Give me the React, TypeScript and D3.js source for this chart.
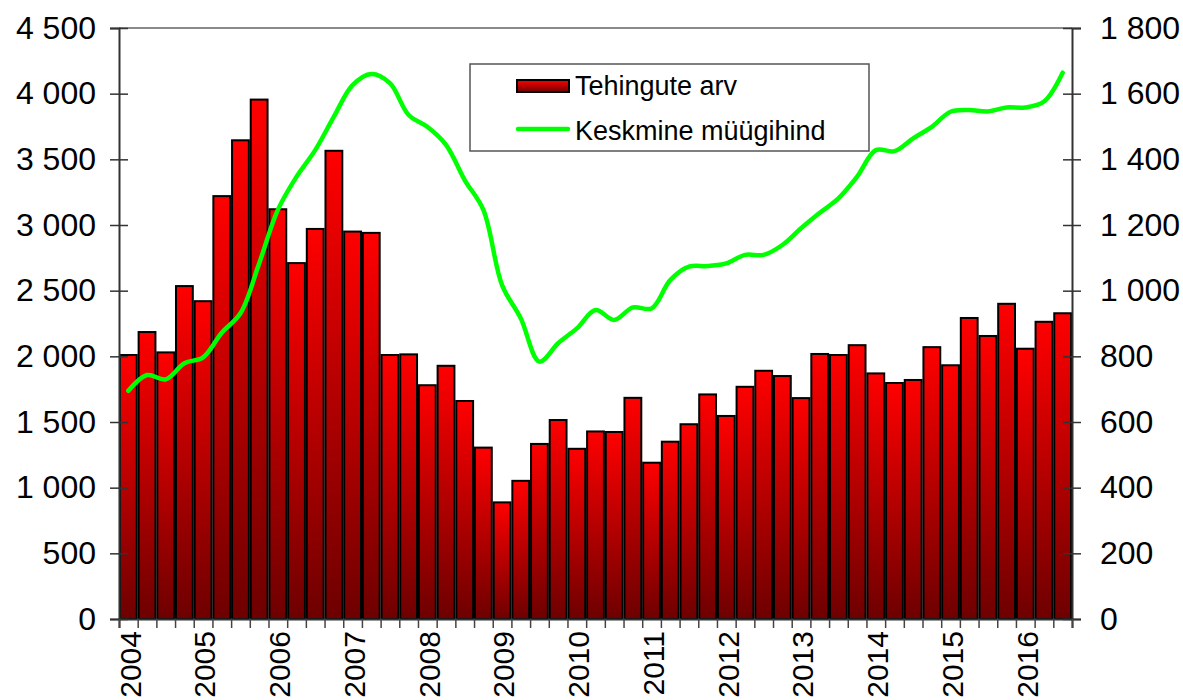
import React, { useEffect, useRef } from 'react';
import * as d3 from 'd3';

// quarters 2004Q1 .. 2016Q3
const quarters = [
  '2004Q1', '2004Q2', '2004Q3', '2004Q4',
  '2005Q1', '2005Q2', '2005Q3', '2005Q4',
  '2006Q1', '2006Q2', '2006Q3', '2006Q4',
  '2007Q1', '2007Q2', '2007Q3', '2007Q4',
  '2008Q1', '2008Q2', '2008Q3', '2008Q4',
  '2009Q1', '2009Q2', '2009Q3', '2009Q4',
  '2010Q1', '2010Q2', '2010Q3', '2010Q4',
  '2011Q1', '2011Q2', '2011Q3', '2011Q4',
  '2012Q1', '2012Q2', '2012Q3', '2012Q4',
  '2013Q1', '2013Q2', '2013Q3', '2013Q4',
  '2014Q1', '2014Q2', '2014Q3', '2014Q4',
  '2015Q1', '2015Q2', '2015Q3', '2015Q4',
  '2016Q1', '2016Q2', '2016Q3',
];

// Tehingute arv (left axis)
const deals = [
  2010, 2185, 2030, 2535,
  2420, 3220, 3645, 3955,
  3120, 2710, 2970, 3565,
  2950, 2940, 2010, 2015,
  1780, 1928, 1660, 1305,
  888, 1052, 1333, 1515,
  1296, 1428, 1424, 1684,
  1190, 1350, 1483, 1710,
  1546, 1768, 1890, 1850,
  1682, 2018, 2010, 2085,
  1870, 1797, 1820, 2070,
  1932, 2292, 2155, 2400,
  2058, 2263, 2328,
];

// Keskmine müügihind (right axis)
const avgPrice = [
  695, 743, 730, 779,
  797, 872, 931, 1083,
  1246, 1347, 1428, 1530,
  1626, 1660, 1632, 1535,
  1499, 1444, 1337, 1246,
  1017, 916, 784, 840,
  885, 941, 911, 949,
  946, 1032, 1073, 1075,
  1083, 1109, 1109, 1139,
  1190, 1237, 1281, 1347,
  1428, 1425, 1464, 1499,
  1545, 1550, 1546, 1558,
  1558, 1576, 1664,
];

const leftTicks = [0, 500, 1000, 1500, 2000, 2500, 3000, 3500, 4000, 4500];
const rightTicks = [0, 200, 400, 600, 800, 1000, 1200, 1400, 1600, 1800];
const yearLabels = ['2004', '2005', '2006', '2007', '2008', '2009', '2010', '2011', '2012', '2013', '2014', '2015', '2016'];

const seriesNames = ['Tehingute arv', 'Keskmine müügihind'];

export default function App() {
  const ref = useRef<SVGSVGElement | null>(null);

  useEffect(() => {
    document.body.style.margin = '0';
    const width = 1183;
    const height = 700;
    const left = 119;
    const right = 1072;
    const top = 28;
    const bottom = 619;
    const font = '"Liberation Sans", Arial, sans-serif';

    const svg = d3.select(ref.current);
    svg.selectAll('*').remove();
    svg.attr('width', width).attr('height', height).style('font-family', font);

    const defs = svg.append('defs');
    const grad = defs
      .append('linearGradient')
      .attr('id', 'barGrad')
      .attr('x1', 0)
      .attr('y1', 0)
      .attr('x2', 0)
      .attr('y2', 1);
    grad.append('stop').attr('offset', '0%').attr('stop-color', '#ff0000');
    grad.append('stop').attr('offset', '100%').attr('stop-color', '#6e0000');

    const loc = d3.formatLocale({ decimal: ',', thousands: '\u00a0', grouping: [3], currency: ['', ''] });
    const fmt = loc.format(',');

    const x = d3.scaleBand().domain(quarters).range([left, right]).paddingInner(0.1).paddingOuter(0.05);
    const yL = d3.scaleLinear().domain([0, 4500]).range([bottom, top]);
    const yR = d3.scaleLinear().domain([0, 1800]).range([bottom, top]);
    const xb = d3.scaleLinear().domain([0, quarters.length]).range([left, right]);

    // top border
    svg.append('line')
      .attr('x1', left).attr('x2', right).attr('y1', top).attr('y2', top)
      .attr('stroke', '#8a8a8a').attr('stroke-width', 2);

    // bars
    svg.append('g')
      .selectAll('rect')
      .data(deals)
      .enter()
      .append('rect')
      .attr('x', (d, i) => x(quarters[i]) as number)
      .attr('y', (d) => yL(d))
      .attr('width', x.bandwidth())
      .attr('height', (d) => bottom - yL(d))
      .attr('fill', 'url(#barGrad)')
      .attr('stroke', '#000')
      .attr('stroke-width', 2);

    // left axis
    const gl = svg.append('g')
      .attr('transform', `translate(${left},0)`)
      .call(d3.axisLeft(yL).tickValues(leftTicks).tickFormat((d) => fmt(d as number)).tickSize(9).tickPadding(14));
    gl.select('.domain').attr('stroke', '#333').attr('stroke-width', 2);
    gl.selectAll('.tick line').attr('x1', 9).attr('stroke', '#333').attr('stroke-width', 1.5);
    gl.selectAll('.tick text').attr('font-size', 32).attr('fill', '#000').attr('font-family', font);

    // right axis
    const gr = svg.append('g')
      .attr('transform', `translate(${right},0)`)
      .call(d3.axisRight(yR).tickValues(rightTicks).tickFormat((d) => fmt(d as number)).tickSize(9).tickPadding(19));
    gr.select('.domain').attr('stroke', '#333').attr('stroke-width', 2);
    gr.selectAll('.tick line').attr('x1', -9).attr('stroke', '#333').attr('stroke-width', 1.5);
    gr.selectAll('.tick text').attr('font-size', 32).attr('fill', '#000').attr('font-family', font);

    // bottom axis with ticks at quarter boundaries
    const gb = svg.append('g')
      .attr('transform', `translate(0,${bottom})`)
      .call(d3.axisBottom(xb).tickValues(d3.range(quarters.length + 1)).tickFormat(() => '').tickSize(9));
    gb.select('.domain').attr('stroke', '#333').attr('stroke-width', 2);
    gb.selectAll('.tick line').attr('stroke', '#444').attr('stroke-width', 1.5);

    // year labels, at the first quarter of each year
    svg.append('g')
      .selectAll('text')
      .data(yearLabels)
      .enter()
      .append('text')
      .attr('transform', (d) => {
        const cx = (x(d + 'Q1') as number) + x.bandwidth() / 2 + 1.5;
        return `translate(${cx},631) rotate(-90)`;
      })
      .attr('text-anchor', 'end')
      .attr('dy', '0.36em')
      .attr('font-size', 30)
      .attr('fill', '#000')
      .text((d) => d);

    // price line
    const line = d3.line<number>()
      .x((d, i) => (x(quarters[i]) as number) + x.bandwidth() / 2)
      .y((d) => yR(d))
      .curve(d3.curveCatmullRom.alpha(0.5));
    svg.append('path')
      .datum(avgPrice)
      .attr('d', line)
      .attr('fill', 'none')
      .attr('stroke', '#00ff00')
      .attr('stroke-width', 4.5)
      .attr('stroke-linecap', 'round')
      .attr('stroke-linejoin', 'round');

    // legend
    const lg = svg.append('g');
    lg.append('rect')
      .attr('x', 470).attr('y', 64).attr('width', 399).attr('height', 87)
      .attr('fill', '#fff').attr('stroke', '#555').attr('stroke-width', 1.5);
    lg.append('rect')
      .attr('x', 517).attr('y', 80).attr('width', 52).attr('height', 12)
      .attr('fill', 'url(#barGrad)').attr('stroke', '#000').attr('stroke-width', 2);
    lg.append('text')
      .attr('x', 575).attr('y', 95).attr('font-size', 27).attr('fill', '#000')
      .text(seriesNames[0]);
    lg.append('line')
      .attr('x1', 518).attr('x2', 568).attr('y1', 129).attr('y2', 129)
      .attr('stroke', '#00ff00').attr('stroke-width', 4.5).attr('stroke-linecap', 'round');
    lg.append('text')
      .attr('x', 575).attr('y', 140).attr('font-size', 27).attr('fill', '#000')
      .text(seriesNames[1]);
  }, []);

  return <svg ref={ref} style={{ display: 'block' }}></svg>;
}
